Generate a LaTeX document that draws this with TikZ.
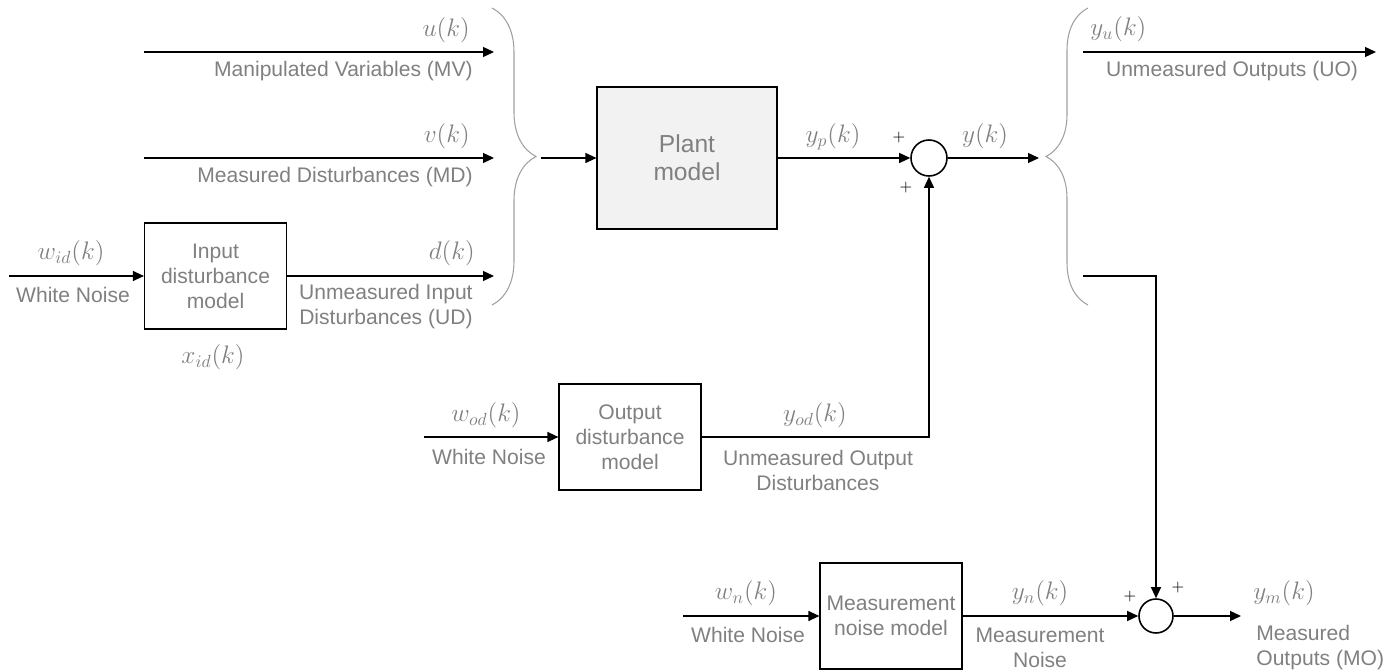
\documentclass[tikz,border=0pt]{standalone}
\usepackage{amsmath}
\usepackage{fontspec}
\setmainfont{Liberation Sans}
\usetikzlibrary{calc}
\usetikzlibrary{positioning}
\usetikzlibrary{arrows.meta}
\usetikzlibrary{decorations.pathreplacing}
\definecolor{labelgray}{HTML}{808080}
\definecolor{bracegray}{HTML}{A0A0A0}
\definecolor{plantfill}{HTML}{F2F2F2}

\begin{document}
\begin{tikzpicture}[x=0.02cm, y=-0.02cm,
        every node/.style={font=\fontsize{12}{14.2}\selectfont, text=labelgray, inner sep=0pt},
        box/.style={rectangle, draw=black, line width=0.7pt, minimum width=2.84cm, minimum height=2.12cm, align=center},
        sumnode/.style={circle, draw=black, line width=0.9pt, minimum size=0.72cm},
        arr/.style={-{Triangle[length=0.22cm, width=0.2cm]}, line width=0.7pt},
        brc/.style={decorate, decoration={brace, amplitude=0.88cm}, draw=bracegray, line width=0.6pt},
        mlbl/.style={font=\fontsize{14}{16}\selectfont},
        sgn/.style={text=black, font=\fontsize{9}{10}\selectfont}]
            \useasboundingbox (0,0) rectangle (1390,671);
            % inputs
            \foreach \sig/\yy/\desc in {u/52/Manipulated Variables (MV), v/158/Measured Disturbances (MD)}
            {
                \coordinate (\sig start) at (144,\yy);
                \coordinate (\sig end) at (494,\yy);
                \draw[arr] (\sig start) -- (\sig end);
                \node[mlbl, anchor=east] (\sig lbl) at ($(\sig end) + (-24,-22)$) {$\sig(k)$};
                \node[anchor=east] (\sig txt) at ($(\sig end) + (-21,19)$) {\desc};
            }
            \node[box] (indist) at (215.5,276) {Input\\disturbance\\model};
            \coordinate (widstart) at (9,276);
            \coordinate (dend) at (494,276);
            \draw[arr] (widstart) -- (indist.west);
            \draw[arr] (indist.east) -- (dend);
            \node[mlbl] (widlbl) at (71,253) {$w_{id}(k)$};
            \node (widtxt) at (73,295) {White Noise};
            \node[mlbl] (xidlbl) at (213,357) {$x_{id}(k)$};
            \node[mlbl, anchor=east] (dlbl) at (475,253) {$d(k)$};
            \node[anchor=east, align=right] (dtxt) at (473,307) {Unmeasured Input\\Disturbances (UD)};
            \coordinate (bracetop) at (492,8);
            \coordinate (bracebot) at (492,305);
            \draw[brc] (bracetop) -- (bracebot);
            \coordinate (bracetip) at (541,158);

            % plant and output sum
            \node[box, fill=plantfill, minimum width=3.6cm, minimum height=2.84cm, font=\fontsize{14}{16}\selectfont] (plant) at (687,158) {Plant\\model};
            \node[sumnode] (sumy) at (929,158) {};
            \draw[arr] (bracetip) -- (plant.west);
            \draw[arr] (plant.east) -- (sumy.west);
            \node[mlbl] (yplbl) at (833,137) {$y_p(k)$};
            \node[sgn] (sumyp) at (899,138) {$+$};
            \node[sgn] (sumyod) at (906,188) {$+$};
            \coordinate (yend) at (1039,158);
            \draw[arr] (sumy.east) -- (yend);
            \node[mlbl] (ylbl) at (985,136) {$y(k)$};

            % outputs
            \coordinate (obracebot) at (1088,305);
            \coordinate (obracetop) at (1088,8);
            \draw[brc, decoration={amplitude=0.84cm}] (obracebot) -- (obracetop);
            \coordinate (yustart) at (1083,52);
            \coordinate (yuend) at (1376,52);
            \draw[arr] (yustart) -- (yuend);
            \node[mlbl, anchor=west] (yulbl) at (1090,29) {$y_u(k)$};
            \node (uotxt) at (1232,71) {Unmeasured Outputs (UO)};

            % output disturbance
            \node[box] (outdist) at (630,437) {Output\\disturbance\\model};
            \coordinate (wodstart) at (424,437);
            \draw[arr] (wodstart) -- (outdist.west);
            \draw[arr] (outdist.east) -| (sumy.south);
            \node[mlbl] (wodlbl) at (486,415) {$w_{od}(k)$};
            \node (wodtxt) at (489,457) {White Noise};
            \node[mlbl] (yodlbl) at (815,415) {$y_{od}(k)$};
            \node[align=center] (yodtxt) at (818,470) {Unmeasured Output\\Disturbances};

            % measurement noise
            \node[box] (measnoise) at (891,616) {Measurement\\noise model};
            \node[sumnode, minimum size=0.68cm] (summ) at (1156,616) {};
            \coordinate (wnstart) at (683,616);
            \coordinate (ymstart) at (1083,276);
            \coordinate (ymend) at (1241,616);
            \draw[arr] (wnstart) -- (measnoise.west);
            \draw[arr] (measnoise.east) -- (summ.west);
            \draw[arr] (ymstart) -| (summ.north);
            \draw[arr] (summ.east) -- (ymend);
            \node[mlbl] (wnlbl) at (746,593) {$w_n(k)$};
            \node (wntxt) at (748,635) {White Noise};
            \node[mlbl] (ynlbl) at (1040,593) {$y_n(k)$};
            \node[align=center] (yntxt) at (1040,648) {Measurement\\Noise};
            \node[sgn] (summn) at (1130,597) {$+$};
            \node[sgn] (summy) at (1178,588) {$+$};
            \node[mlbl, anchor=west] (ymlbl) at (1253,593) {$y_m(k)$};
            \node[anchor=west, align=left] (ymtxt) at (1256,648) {Measured\\Outputs (MO)};
        \end{tikzpicture}
\end{document}
